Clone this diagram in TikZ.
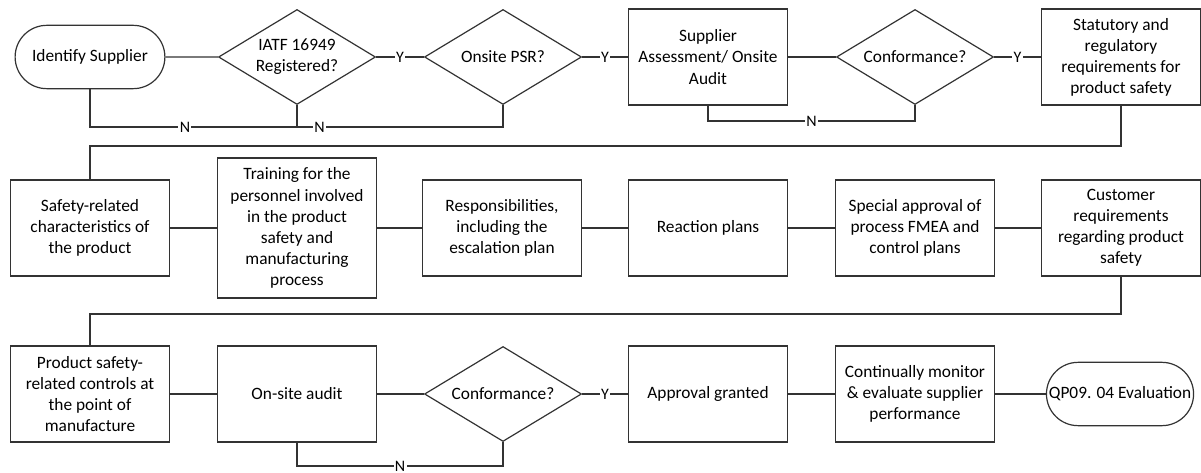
\documentclass[tikz,border=0pt]{standalone}
\usepackage{fontspec}
\setmainfont{Carlito}
\usetikzlibrary{shapes.geometric,shapes.misc}
\begin{document}
\begin{tikzpicture}[x=0.75pt,y=-0.75pt,
  every node/.style={font=\fontsize{13}{15.8}\selectfont, text=black},
  box/.style={draw=black!80, line width=0.9pt, rectangle, minimum width=119.25pt, minimum height=72pt, align=center, inner sep=2pt},
  dec/.style={draw=black!80, line width=0.9pt, diamond, aspect=1.65, minimum width=117.75pt, minimum height=71.25pt, inner sep=0pt, align=center},
  term/.style={draw=black!80, line width=0.9pt, rounded rectangle, minimum width=119pt, minimum height=47.5pt, align=center},
  conn/.style={draw=black!80, line width=0.9pt},
  lab/.style={fill=white, inner sep=1pt, font=\fontsize{12}{14}\selectfont}
]
\useasboundingbox (0,0) rectangle (1201,473);
% Row 1
\node[term] (ident) at (90,57) {Identify Supplier};
\node[dec] (iatf) at (297,57) {IATF 16949\\Registered?};
\node[dec] (psr) at (503,57) {Onsite PSR?};
\node[box] (supp) at (708,57) {Supplier\\Assessment/ Onsite\\Audit};
\node[dec] (conf1) at (915,57) {Conformance?};
\node[box] (stat) at (1121,57) {Statutory and\\regulatory\\requirements for\\product safety};
% Row 2
\node[box] (safety) at (90,228) {Safety-related\\characteristics of\\the product};
\node[box, minimum height=105pt] (train) at (297,228) {Training for the\\personnel involved\\in the product\\safety and\\manufacturing\\process};
\node[box] (resp) at (502,228) {Responsibilities,\\including the\\escalation plan};
\node[box] (react) at (708,228) {Reaction plans};
\node[box] (spec) at (915,228) {Special approval of\\process FMEA and\\control plans};
\node[box] (cust) at (1121,228) {Customer\\requirements\\regarding product\\safety};
% Row 3
\node[box] (prod) at (90,394) {Product safety-\\related controls at\\the point of\\manufacture};
\node[box] (onsite) at (297,394) {On-site audit};
\node[dec] (conf3) at (503,394) {Conformance?};
\node[box] (appr) at (708,394) {Approval granted};
\node[box] (cont) at (915,394) {Continually monitor\\\& evaluate supplier\\performance};
\node[term, minimum width=117pt] (qp) at (1120,394) {QP09. 04 Evaluation};
% helper coordinates
\coordinate (n1a) at (90,127);
\coordinate (n1b) at (503,127);
\coordinate (n1c) at (297,127);
\coordinate (n2a) at (708,121);
\coordinate (n2b) at (915,121);
\coordinate (r1a) at (1121,146);
\coordinate (r1b) at (90,146);
\coordinate (r2a) at (1121,314);
\coordinate (r2b) at (90,314);
\coordinate (n3a) at (297,466);
\coordinate (n3b) at (503,466);
% Row 1 connectors
\draw[conn] (ident) -- (iatf);
\draw[conn] (iatf) -- node[lab]{Y} (psr);
\draw[conn] (psr) -- node[lab]{Y} (supp);
\draw[conn] (supp) -- (conf1);
\draw[conn] (conf1) -- node[lab]{Y} (stat);
\draw[conn] (ident.south) -- (n1a) -- node[lab, pos=0.23]{N} node[lab, pos=0.556]{N} (n1b) -- (psr.south);
\draw[conn] (iatf.south) -- (n1c);
\draw[conn] (supp.south) -- (n2a) -- node[lab]{N} (n2b) -- (conf1.south);
\draw[conn] (stat.south) -- (r1a) -- (r1b) -- (safety.north);
% Row 2 connectors
\draw[conn] (safety) -- (train);
\draw[conn] (train) -- (resp);
\draw[conn] (resp) -- (react);
\draw[conn] (react) -- (spec);
\draw[conn] (spec) -- (cust);
\draw[conn] (cust.south) -- (r2a) -- (r2b) -- (prod.north);
% Row 3 connectors
\draw[conn] (prod) -- (onsite);
\draw[conn] (onsite) -- (conf3);
\draw[conn] (conf3) -- node[lab]{Y} (appr);
\draw[conn] (appr) -- (cont);
\draw[conn] (cont) -- (qp);
\draw[conn] (onsite.south) -- (n3a) -- node[lab]{N} (n3b) -- (conf3.south);
\end{tikzpicture}
\end{document}
